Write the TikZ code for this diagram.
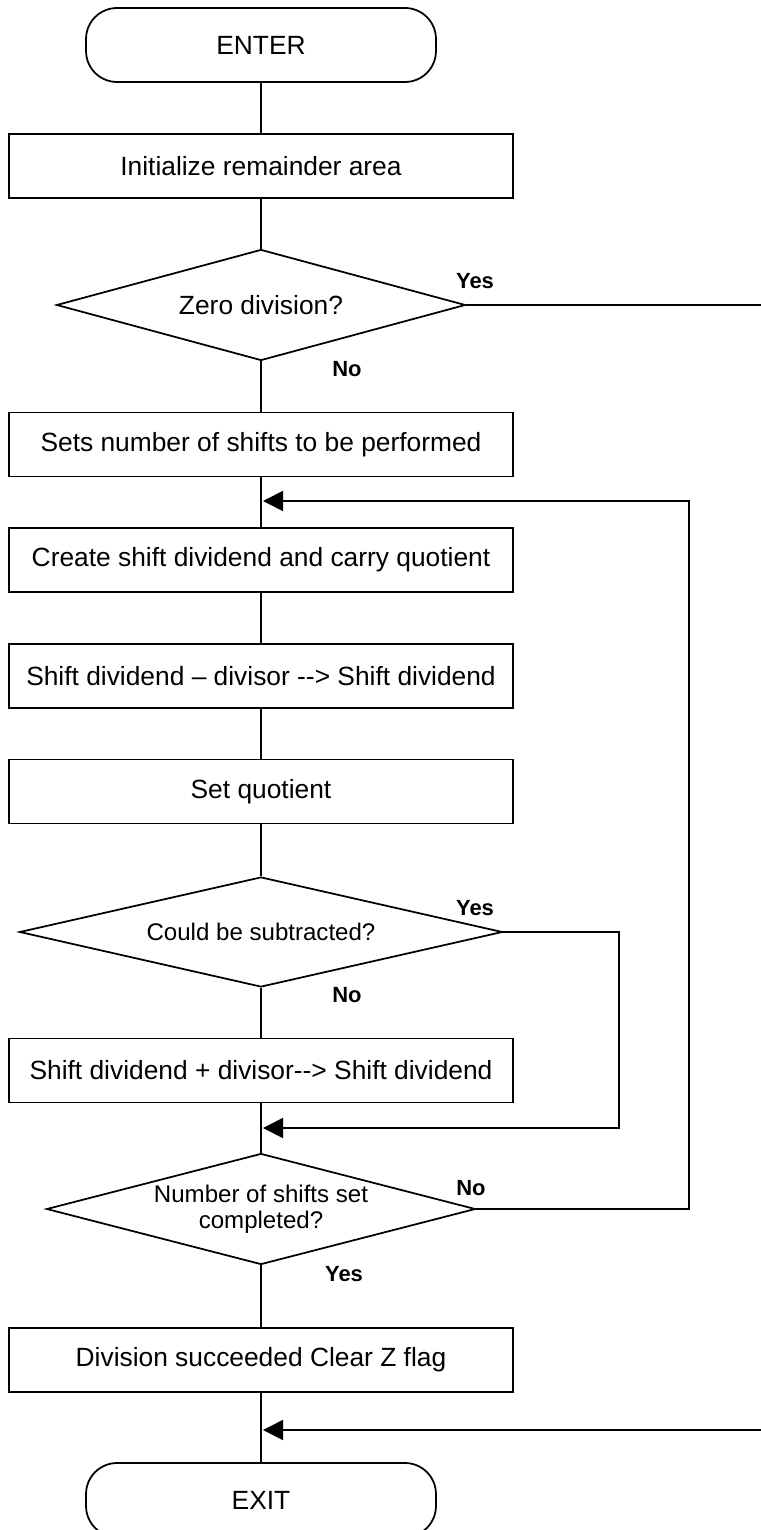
\documentclass[tikz,border=0pt]{standalone}
\usepackage{fontspec}
\setmainfont{Liberation Sans}
\usetikzlibrary{shapes.geometric, arrows.meta, positioning}
\newcommand{\dbar}{\mbox{-}\mbox{-}}

\begin{document}
\begin{tikzpicture}[x=0.02cm, y=-0.02cm, line width=1pt,
        every node/.style={font=\fontsize{15}{18}\selectfont},
        term/.style={draw, rounded corners=0.62cm, minimum width=7cm, minimum height=1.48cm},
        proc/.style={draw, rectangle, minimum width=10.08cm, minimum height=1.28cm},
        dec/.style={draw, diamond, inner sep=0pt, align=center},
        smalltext/.style={font=\fontsize{13.7}{15}\selectfont},
        lbl/.style={font=\fontsize{12.5}{15}\selectfont\bfseries},
        flow/.style={-{Triangle[length=0.4cm, width=0.4cm]}}]
        \useasboundingbox (0,0) rectangle (760,1530);

        \node[term] (enter) at (261,45) {ENTER};
        \node[proc] (init) at (261,166) {Initialize remainder area};
        \node[dec, minimum width=8.18cm, minimum height=2.22cm, shape aspect=3.7] (zero) at (261,305) {Zero division?};
        \node[proc] (nshift) at (261,444.5) {Sets number of shifts to be performed};
        \node[proc] (create) at (261,560) {Create shift dividend and carry quotient};
        \node[proc] (sub) at (261,676) {Shift dividend – divisor \dbar> Shift dividend};
        \node[proc] (setq) at (261,791.5) {Set quotient};
        \node[dec, smalltext, minimum width=9.66cm, minimum height=2.2cm, shape aspect=4.4] (could) at (261,932) {Could be subtracted?};
        \node[proc] (add) at (261,1070.5) {Shift dividend + divisor\dbar> Shift dividend};
        \node[dec, smalltext, minimum width=8.58cm, minimum height=2.22cm, shape aspect=3.9] (done) at (261,1209) {Number of shifts set\\completed?};
        \node[proc] (succ) at (261,1360) {Division succeeded Clear Z flag};
        \node[term] (exit) at (261,1500) {EXIT};

        \node[lbl] (yes1) at (475,281) {Yes};
        \node[lbl] (no1) at (347,369) {No};
        \node[lbl] (yes2) at (475,908) {Yes};
        \node[lbl] (no2) at (347,995) {No};
        \node[lbl] (no3) at (471,1188) {No};
        \node[lbl] (yes3) at (344,1274) {Yes};

        \foreach \a/\b in {enter/init, init/zero, zero/nshift, nshift/create, create/sub, sub/setq,
                setq/could, could/add, add/done, done/succ, succ/exit}{
            \draw (\a) -- (\b);
        }

        \coordinate (j1) at (263,501);
        \coordinate (j2) at (263,1128);
        \coordinate (j3) at (263,1430);
        \coordinate (rl) at (689,501);
        \coordinate (rs) at (619,1128);
        \coordinate (ry) at (780,1430);
        \draw[flow] (done.east) -| (rl) -- (j1);
        \draw[flow] (could.east) -| (rs) -- (j2);
        \draw[flow] (zero.east) -| (ry) -- (j3);
    \end{tikzpicture}
\end{document}
